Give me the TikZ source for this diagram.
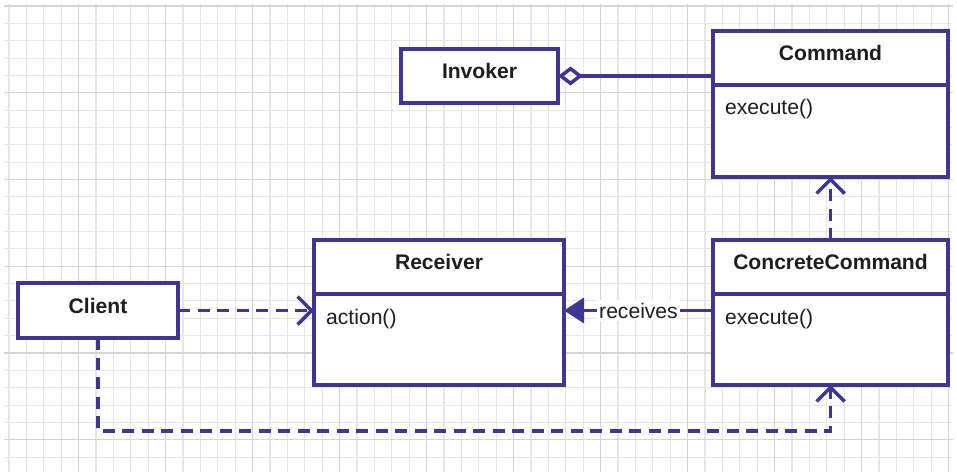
\documentclass[tikz,border=0pt]{standalone}
\usepackage{fontspec}
\setmainfont{Liberation Sans}
\usetikzlibrary{arrows.meta,positioning}

\definecolor{umlblue}{RGB}{62,54,146}
\definecolor{umltext}{RGB}{30,30,30}
\definecolor{gridminor}{RGB}{230,230,230}
\definecolor{gridmajor}{RGB}{212,212,212}

\tikzset{
  classname/.style={draw=umlblue, line width=2pt, fill=white, text=umltext,
    font=\bfseries\fontsize{12}{14}\selectfont, text height=9pt, text depth=6pt,
    inner sep=0pt, outer sep=0pt, minimum height=10.8mm},
  classbody/.style={draw=umlblue, line width=2pt, fill=white, inner sep=0pt, outer sep=0pt},
  op/.style={anchor=west, text=umltext, font=\fontsize{12}{14}\selectfont},
  dep/.style={draw=umlblue, line width=2pt, dash pattern=on 2.4mm off 1.5mm,
    -{Straight Barb[length=2.8mm,width=5.6mm,line width=2pt]}},
  assoc/.style={draw=umlblue, line width=2pt},
  linklabel/.style={fill=white, text=umltext, font=\fontsize{12}{14}\selectfont, inner sep=1.5pt}
}

\begin{document}
\begin{tikzpicture}[x=0.2mm,y=-0.2mm]
  \useasboundingbox (0,0) rectangle (957,475);
  \foreach \i in {0,...,54}
    \draw[gridminor, line width=0.6pt] ({9+17.4*\i},4) -- ({9+17.4*\i},472);
  \foreach \j in {0,...,26}
    \draw[gridminor, line width=0.6pt] (4,{6+17.35*\j}) -- (953,{6+17.35*\j});
  \foreach \i in {4,9,...,54}
    \draw[gridmajor, line width=0.7pt] ({9+17.4*\i},4) -- ({9+17.4*\i},472);
  \foreach \j in {0,5,...,25}
    \draw[gridmajor, line width=0.7pt] (4,{6+17.35*\j}) -- (953,{6+17.35*\j});

  \node[classname, minimum width=31.4mm] (inv) at (479.5,76) {Invoker};
  \node[classname, minimum width=32mm, minimum height=11mm] (cli) at (98,310.5) {Client};

  \node[classname, minimum width=47mm] (cmd) at (830.5,58) {Command};
  \node[classbody, minimum width=47mm, minimum height=18.4mm, below=0pt of cmd] (cmdb) {};
  \node[op] (cmdop) at (719,109) {execute()};

  \node[classname, minimum width=50mm] (rcv) at (439,267) {Receiver};
  \node[classbody, minimum width=50mm, minimum height=18.2mm, below=0pt of rcv] (rcvb) {};
  \node[op] (rcvop) at (320,319) {action()};

  \node[classname, minimum width=47mm] (cc) at (830.5,267) {ConcreteCommand};
  \node[classbody, minimum width=47mm, minimum height=18.2mm, below=0pt of cc] (ccb) {};
  \node[op] (ccop) at (719,319) {execute()};

  \coordinate (low) at (0,431);

  \draw[assoc, {Diamond[open,length=5mm,width=3.8mm,line width=2pt]}-] (inv.east) -- (inv.east -| cmd.west);
  \draw[dep] (cc.north) -- (cmdb.south);
  \draw[dep] (cli.east) -- (cli.east -| rcvb.west);
  \draw[assoc, -{Triangle[length=4mm,width=5mm]}] (cli.east -| ccb.west) -- (cli.east -| rcvb.east)
    node[linklabel, midway] (rcvlbl) {receives};
  \draw[dep] (cli.south) |- (ccb.south |- low) -- (ccb.south);
\end{tikzpicture}
\end{document}
